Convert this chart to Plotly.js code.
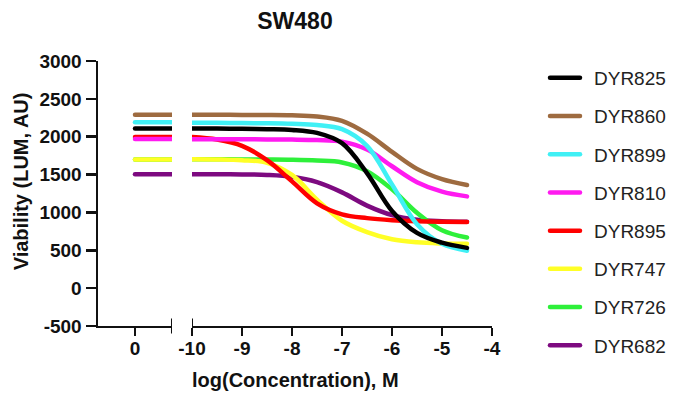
<!DOCTYPE html>
<html>
<head>
<meta charset="utf-8">
<script src="https://cdn.plot.ly/plotly-3.0.1.min.js"></script>
<style>
  html, body { margin: 0; padding: 0; background: #fff; }
  #chart { width: 679px; height: 394px; }
  .js-line { stroke-linecap: round; }
  .legendtext { transform: translateX(9px); }
  .legend .scrollbox { clip-path: none !important; }
</style>
</head>
<body>
<div id="chart"></div>
<script>
// ---- data ----
const seriesNames = ["DYR825", "DYR860", "DYR899", "DYR810", "DYR895", "DYR747", "DYR726", "DYR682"];
const seriesColors = ["#000000", "#9E6B40", "#40F0F5", "#FF1AF0", "#FF0000", "#FFFF26", "#2EF03A", "#7D0A80"];

// control (x = 0) values
const controlX = [0, 1];
const controlValues = [2110, 2290, 2190, 1970, 1995, 1700, 1700, 1505];

// log(Concentration), M
const logConc = [-10, -9.5, -9, -8.5, -8, -7.5, -7, -6.5, -6, -5.5, -5, -4.5];

const DYR825 = [2110, 2108, 2105, 2100, 2090, 2050, 1915, 1520, 1020, 730, 600, 532];
const DYR860 = [2290, 2290, 2288, 2287, 2283, 2268, 2210, 2040, 1800, 1575, 1440, 1362];
const DYR899 = [2185, 2183, 2180, 2177, 2170, 2155, 2100, 1880, 1370, 845, 585, 495];
const DYR810 = [1968, 1968, 1966, 1964, 1962, 1956, 1935, 1830, 1610, 1400, 1275, 1212];
const DYR895 = [1995, 1962, 1880, 1690, 1410, 1120, 975, 925, 898, 884, 878, 875];
const DYR747 = [1702, 1700, 1690, 1655, 1495, 1170, 890, 740, 645, 605, 590, 585];
const DYR726 = [1702, 1702, 1700, 1698, 1695, 1685, 1660, 1545, 1305, 995, 765, 668];
const DYR682 = [1505, 1505, 1502, 1495, 1470, 1400, 1265, 1090, 965, 905, 885, 876];
const seriesValues = [DYR825, DYR860, DYR899, DYR810, DYR895, DYR747, DYR726, DYR682];

const yTickVals = [-500, 0, 500, 1000, 1500, 2000, 2500, 3000];
const yTickText = ["-500", "0", "500", "1000", "1500", "2000", "2500", "3000"];
const x1TickVals = [0];
const x1TickText = ["0"];
const x2TickVals = [-10, -9, -8, -7, -6, -5, -4];
const x2TickText = ["-10", "-9", "-8", "-7", "-6", "-5", "-4"];

// ---- build traces (first series drawn last = on top, as in the reference) ----
const traces = [];
for (let i = seriesNames.length - 1; i >= 0; i--) {
  traces.push({
    type: "scatter", mode: "lines",
    name: seriesNames[i] + " control",
    x: controlX, y: [controlValues[i], controlValues[i]],
    xaxis: "x", yaxis: "y",
    line: { color: seriesColors[i], width: 4.5 },
    legendgroup: seriesNames[i], legendrank: i + 1, showlegend: false, hoverinfo: "skip"
  });
}
for (let i = seriesNames.length - 1; i >= 0; i--) {
  traces.push({
    type: "scatter", mode: "lines",
    name: seriesNames[i],
    x: logConc, y: seriesValues[i],
    xaxis: "x2", yaxis: "y",
    line: { color: seriesColors[i], width: 4.5, shape: "spline", smoothing: 1 },
    legendgroup: seriesNames[i], legendrank: i + 1, showlegend: true
  });
}

const boldFont = { family: "Liberation Sans, Arial, sans-serif", color: "#111", weight: "bold" };
const axisCommon = {
  showgrid: false, zeroline: false, showline: true, linecolor: "#111", linewidth: 2,
  ticks: "outside", ticklen: 8, tickwidth: 2, tickcolor: "#111", ticklabelstandoff: -4,
  tickfont: Object.assign({ size: 19 }, boldFont), fixedrange: true
};

const layout = {
  width: 679, height: 394,
  margin: { l: 98, r: 187, t: 61, b: 68 },
  paper_bgcolor: "#fff", plot_bgcolor: "#fff",
  showlegend: true,
  title: {
    text: "SW480", font: Object.assign({ size: 23 }, boldFont),
    x: 0.5, xref: "paper", xanchor: "center", y: 0.948, yanchor: "middle"
  },
  xaxis: Object.assign({}, axisCommon, {
    domain: [0, 0.1878], range: [-1, 1], anchor: "y",
    tickmode: "array", tickvals: x1TickVals, ticktext: x1TickText
  }),
  xaxis2: Object.assign({}, axisCommon, {
    domain: [0.2386, 1], range: [-10, -4], anchor: "y",
    tickmode: "array", tickvals: x2TickVals, ticktext: x2TickText
  }),
  yaxis: Object.assign({}, axisCommon, {
    range: [-500, 3000], anchor: "x", linewidth: 2.5, tickwidth: 2.5, ticklen: 10,
    ticklabelstandoff: 0,
    tickmode: "array", tickvals: yTickVals, ticktext: yTickText
  }),
  legend: {
    x: 1.1345, xanchor: "left", y: 1.0075, yanchor: "top",
    traceorder: "grouped", tracegroupgap: 10.5, itemwidth: 30, maxheight: 380,
    font: { family: "Liberation Sans, Arial, sans-serif", size: 19, color: "#222" },
    bgcolor: "rgba(0,0,0,0)"
  },
  shapes: [
    { type: "line", xref: "x", x0: 1, x1: 1, yref: "paper", y0: -0.028, y1: 0.028,
      line: { color: "#111", width: 2 } },
    { type: "line", xref: "x2", x0: -10, x1: -10, yref: "paper", y0: -0.028, y1: 0.028,
      line: { color: "#111", width: 2 } }
  ],
  annotations: [
    { text: "log(Concentration), M", xref: "paper", yref: "paper", x: 0.5, y: -0.205,
      xanchor: "center", yanchor: "middle", showarrow: false,
      font: Object.assign({ size: 20 }, boldFont) },
    { text: "Viability (LUM, AU)", xref: "paper", yref: "paper", x: -0.196, y: 0.545,
      xanchor: "center", yanchor: "middle", textangle: -90, showarrow: false,
      font: Object.assign({ size: 20 }, boldFont) }
  ]
};

Plotly.newPlot("chart", traces, layout, { displayModeBar: false, staticPlot: true });
</script>
</body>
</html>
